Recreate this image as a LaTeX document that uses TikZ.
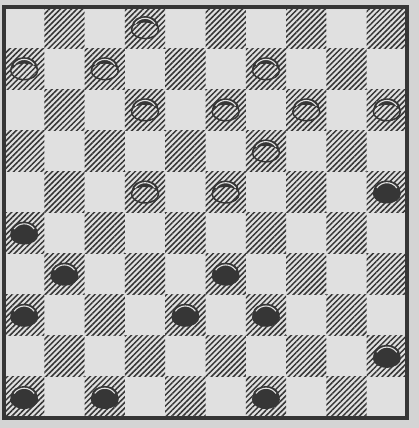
\documentclass[tikz,border=0pt]{standalone}
\usepackage{tikz}
\usetikzlibrary{patterns.meta}
\definecolor{paper}{HTML}{D4D4D4}
\definecolor{boardlight}{HTML}{E0E0E0}
\definecolor{ink}{HTML}{363636}
\tikzset{
    darksq/.style={
        pattern={Lines[angle=45,distance=3.9pt,line width=1.5pt]},
        pattern color=ink
    },
    frame/.style={
        draw=ink,
        line width=3.2pt
    },
    piececap/.pic={
        \fill[ink] (-13.5,-1) .. controls (-12.5,-15) and (12.5,-15) .. (13.5,-1)
            -- (13.5,1) .. controls (12,-7) and (-12,-7) .. (-13.5,1) -- cycle;
        \draw[boardlight, line width=1.1pt] (-10,-4) .. controls (-5,-11) and (5,-11) .. (10,-4);
    },
    whitepiece/.pic={
        \draw[ink, line width=1.5pt] (0,2) ellipse (13.5 and 9);
        \pic {piececap};
    },
    blackpiece/.pic={
        \fill[ink] (0,2) ellipse (14 and 9.5);
        \pic {piececap};
    }
}
\begin{document}
\begin{tikzpicture}[x=1pt, y=-1pt]
\fill[paper] (0,0) rectangle (419,428);
\useasboundingbox (0,0) rectangle (419,428);

% board squares
\fill[boardlight] (4,7) rectangle (407,418);
\foreach \r in {0,...,9}
  \foreach \c in {0,...,9} {
    \pgfmathtruncatemacro{\odd}{mod(\r+\c,2)}
    \ifnum\odd=1
      \fill[darksq] ({4+40.3*\c},{7+41.1*\r}) rectangle +(40.3,41.1);
    \fi
  }
\draw[frame] (4,7) rectangle (407,418);

% pieces
\foreach \c/\r in {3/0, 0/1, 2/1, 6/1, 3/2, 5/2, 7/2, 9/2, 6/3, 3/4, 5/4}
  \pic at ({24.15+40.3*\c},{27.55+41.1*\r}) {whitepiece};
\foreach \c/\r in {9/4, 0/5, 1/6, 5/6, 0/7, 4/7, 6/7, 9/8, 0/9, 2/9, 6/9}
  \pic at ({24.15+40.3*\c},{27.55+41.1*\r}) {blackpiece};
\end{tikzpicture}
\end{document}
